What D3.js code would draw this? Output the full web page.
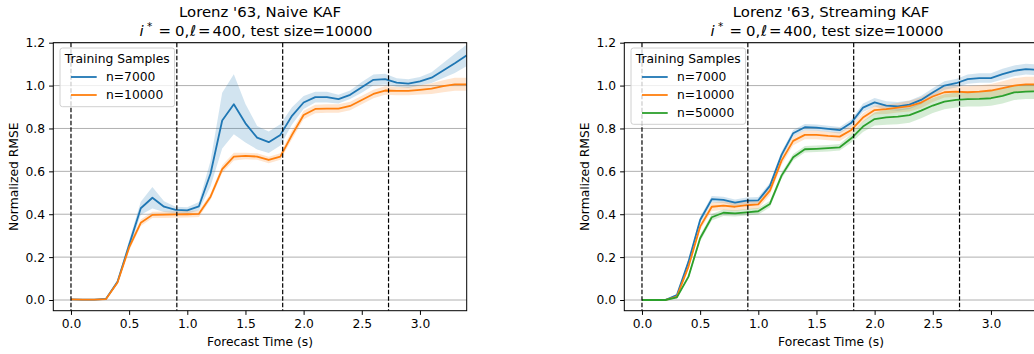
<!DOCTYPE html>
<html>
<head>
<meta charset="utf-8">
<script src="https://cdn.jsdelivr.net/npm/d3@7"></script>
<style>
  body { margin: 0; background: #fff; }
  svg { display: block; font-family: "DejaVu Sans", sans-serif; }
</style>
</head>
<body>
<svg id="chart" width="1034" height="354"></svg>
<script>
// ---------- data ----------
const times = [0.0,0.1,0.2,0.3,0.4,0.5,0.6,0.7,0.8,0.9,1.0,1.1,1.2,1.3,1.4,1.5,1.6,1.7,1.8,1.9,2.0,2.1,2.2,2.3,2.4,2.5,2.6,2.7,2.8,2.9,3.0,3.1,3.2,3.3,3.4];
const vlines = [0.0, 0.91, 1.82, 2.73];
const xTicks = [0.0, 0.5, 1.0, 1.5, 2.0, 2.5, 3.0];
const yTicks = [0.0, 0.2, 0.4, 0.6, 0.8, 1.0, 1.2];

// Naive KAF
const naive7000 = [0.003,0.002,0.002,0.005,0.085,0.257,0.428,0.477,0.435,0.42,0.418,0.437,0.59,0.837,0.913,0.824,0.757,0.736,0.77,0.859,0.921,0.946,0.946,0.937,0.957,0.992,1.027,1.03,1.014,1.009,1.02,1.037,1.07,1.104,1.14];
const naive7000Spread = [0.002,0.002,0.002,0.003,0.01,0.02,0.03,0.05,0.025,0.015,0.015,0.02,0.06,0.13,0.14,0.09,0.055,0.05,0.05,0.04,0.03,0.025,0.025,0.02,0.02,0.025,0.025,0.025,0.02,0.02,0.02,0.025,0.035,0.045,0.05];
const naive10000 = [0.003,0.002,0.002,0.004,0.082,0.245,0.36,0.397,0.398,0.399,0.40,0.402,0.482,0.61,0.669,0.672,0.669,0.653,0.669,0.77,0.863,0.891,0.893,0.893,0.905,0.933,0.961,0.977,0.975,0.975,0.98,0.986,0.997,1.006,1.006];
const naive10000Spread = [0.002,0.002,0.002,0.003,0.008,0.015,0.015,0.015,0.015,0.015,0.015,0.015,0.015,0.018,0.018,0.015,0.015,0.015,0.015,0.02,0.02,0.02,0.02,0.02,0.02,0.02,0.02,0.02,0.02,0.02,0.022,0.025,0.028,0.03,0.03];

// Streaming KAF
const stream7000 = [0.0,0.0,0.0,0.023,0.179,0.373,0.47,0.467,0.454,0.463,0.465,0.532,0.677,0.778,0.806,0.804,0.798,0.792,0.827,0.897,0.922,0.907,0.903,0.911,0.933,0.968,1.0,1.011,1.03,1.035,1.035,1.053,1.069,1.077,1.073];
const stream7000Spread = [0.002,0.002,0.002,0.005,0.01,0.015,0.015,0.015,0.015,0.015,0.015,0.015,0.015,0.015,0.015,0.015,0.015,0.015,0.015,0.02,0.02,0.02,0.02,0.02,0.02,0.02,0.02,0.02,0.022,0.022,0.022,0.025,0.025,0.025,0.025];
const stream10000 = [0.0,0.0,0.0,0.016,0.156,0.342,0.435,0.44,0.435,0.442,0.446,0.51,0.65,0.742,0.77,0.77,0.765,0.762,0.793,0.851,0.886,0.89,0.897,0.904,0.921,0.949,0.969,0.972,0.969,0.972,0.977,0.988,1.0,1.006,1.006];
const stream10000Spread = [0.002,0.002,0.002,0.005,0.01,0.015,0.02,0.02,0.02,0.02,0.02,0.02,0.02,0.02,0.02,0.02,0.02,0.02,0.02,0.02,0.02,0.022,0.022,0.025,0.025,0.025,0.025,0.025,0.028,0.03,0.03,0.032,0.035,0.035,0.035];
const stream50000 = [0.0,0.0,0.0,0.012,0.109,0.288,0.386,0.407,0.404,0.409,0.414,0.448,0.58,0.666,0.703,0.705,0.708,0.712,0.754,0.809,0.844,0.852,0.855,0.862,0.883,0.907,0.925,0.933,0.937,0.938,0.941,0.952,0.968,0.972,0.973];
const stream50000Spread = [0.002,0.002,0.002,0.005,0.01,0.015,0.015,0.015,0.015,0.015,0.015,0.015,0.015,0.015,0.015,0.015,0.015,0.015,0.02,0.025,0.03,0.035,0.035,0.035,0.035,0.035,0.035,0.035,0.035,0.035,0.035,0.035,0.035,0.035,0.035];

const colors = { n7000: "#1f77b4", n10000: "#ff7f0e", n50000: "#2ca02c" };

const panels = [
  {
    title: "Lorenz '63, Naive KAF",
    left: 53.3, right: 466.7,
    legendHeight: 58.7,
    series: [
      { name: "n=7000", mean: naive7000, spread: naive7000Spread, color: colors.n7000 },
      { name: "n=10000", mean: naive10000, spread: naive10000Spread, color: colors.n10000 }
    ]
  },
  {
    title: "Lorenz '63, Streaming KAF",
    left: 624.3, right: 1037.7,
    legendHeight: 76.3,
    series: [
      { name: "n=7000", mean: stream7000, spread: stream7000Spread, color: colors.n7000 },
      { name: "n=10000", mean: stream10000, spread: stream10000Spread, color: colors.n10000 },
      { name: "n=50000", mean: stream50000, spread: stream50000Spread, color: colors.n50000 }
    ]
  }
];

// ---------- drawing ----------
const svg = d3.select("#chart");
const axTop = 42.7, axBottom = 310.7;
const FS = 12.3;
const TFS = 14.9;

panels.forEach((p, pi) => {
  const x = d3.scaleLinear().domain([-0.152, 3.402]).range([p.left, p.right]);
  const pxPerUnit = (300 - axTop) / 1.2;
  const y = d3.scaleLinear().domain([-(axBottom - 300) / pxPerUnit, 1.2]).range([axBottom, axTop]);

  const g = svg.append("g");
  const clipId = "clip" + pi;
  svg.append("defs").append("clipPath").attr("id", clipId)
    .append("rect").attr("x", p.left).attr("y", axTop).attr("width", p.right - p.left).attr("height", axBottom - axTop);

  // grid
  g.append("g").selectAll("line").data(yTicks).join("line")
    .attr("x1", p.left).attr("x2", p.right)
    .attr("y1", d => y(d)).attr("y2", d => y(d))
    .attr("stroke", "#b0b0b0").attr("stroke-width", 1);

  const plot = g.append("g").attr("clip-path", `url(#${clipId})`);

  // bands
  p.series.forEach(s => {
    const area = d3.area()
      .x((d, i) => x(times[i]))
      .y0((d, i) => y(s.mean[i] - s.spread[i]))
      .y1((d, i) => y(s.mean[i] + s.spread[i]));
    plot.append("path").datum(s.mean).attr("d", area)
      .attr("fill", s.color).attr("fill-opacity", 0.2).attr("stroke", "none");
  });
  // lines
  p.series.forEach(s => {
    const line = d3.line().x((d, i) => x(times[i])).y(d => y(d));
    plot.append("path").datum(s.mean).attr("d", line)
      .attr("fill", "none").attr("stroke", s.color).attr("stroke-width", 1.8)
      .attr("stroke-linejoin", "round");
  });

  // vertical dashed lines
  plot.append("g").selectAll("line").data(vlines).join("line")
    .attr("x1", d => x(d)).attr("x2", d => x(d))
    .attr("y1", axTop).attr("y2", axBottom)
    .attr("stroke", "#000").attr("stroke-width", 1.2)
    .attr("stroke-dasharray", "4.5,2");

  // axes
  const xAxis = d3.axisBottom(x).tickValues(xTicks).tickFormat(d3.format(".1f")).tickSize(4.2).tickPadding(4);
  const yAxis = d3.axisLeft(y).tickValues(yTicks).tickFormat(d3.format(".1f")).tickSize(4.2).tickPadding(4);
  const gx = g.append("g").attr("transform", `translate(0,${axBottom})`).call(xAxis);
  const gy = g.append("g").attr("transform", `translate(${p.left},0)`).call(yAxis);
  [gx, gy].forEach(a => {
    a.select(".domain").remove();
    a.selectAll("line").attr("stroke", "#000").attr("stroke-width", 1);
    a.selectAll("text").attr("font-size", FS).attr("font-family", "DejaVu Sans").attr("fill", "#000");
  });

  // spines
  g.append("rect").attr("x", p.left).attr("y", axTop)
    .attr("width", p.right - p.left).attr("height", axBottom - axTop)
    .attr("fill", "none").attr("stroke", "#000").attr("stroke-width", 1);

  // axis labels
  const cx = (p.left + p.right) / 2;
  g.append("text").attr("x", cx).attr("y", 345.5)
    .attr("text-anchor", "middle").attr("font-size", FS).text("Forecast Time (s)");
  g.append("text").attr("transform", `translate(${p.left - 35.5},${(axTop + axBottom) / 2}) rotate(-90)`)
    .attr("text-anchor", "middle").attr("font-size", FS).text("Normalized RMSE");

  // titles
  g.append("text").attr("x", cx).attr("y", 17).attr("text-anchor", "middle")
    .attr("font-size", TFS).text(p.title);
  const t2 = g.append("g").attr("font-size", TFS);
  const base = 35.5;
  t2.append("text").attr("x", cx - 120.5).attr("y", base).attr("font-style", "italic").text("i");
  t2.append("text").attr("x", cx - 113).attr("y", base - 5.5).attr("font-size", 10.5).text("*");
  t2.append("text").attr("x", cx - 101.5).attr("y", base).text("=");
  t2.append("text").attr("x", cx - 85).attr("y", base).text("0,");
  t2.append("text").attr("x", cx - 70).attr("y", base).attr("font-style", "italic").text("\u2113");
  t2.append("text").attr("x", cx - 62).attr("y", base).text("=");
  t2.append("text").attr("x", cx - 47.5).attr("y", base).text("400, test size=10000");

  // legend
  const lx = p.left + 6.7, ly = 48;
  const lg = g.append("g");
  lg.append("rect").attr("x", lx).attr("y", ly).attr("width", 114.6).attr("height", p.legendHeight)
    .attr("rx", 2.5).attr("fill", "#fff").attr("fill-opacity", 0.8)
    .attr("stroke", "#d0d0d0").attr("stroke-width", 1);
  lg.append("text").attr("x", lx + 57.3).attr("y", 63).attr("text-anchor", "middle")
    .attr("font-size", FS).text("Training Samples");
  p.series.forEach((s, i) => {
    const yy = 77 + i * 18;
    lg.append("line").attr("x1", lx + 11).attr("x2", lx + 36.7).attr("y1", yy).attr("y2", yy)
      .attr("stroke", s.color).attr("stroke-width", 1.8);
    lg.append("text").attr("x", lx + 46).attr("y", yy + 4.3).attr("font-size", FS).text(s.name);
  });
});
</script>
</body>
</html>
